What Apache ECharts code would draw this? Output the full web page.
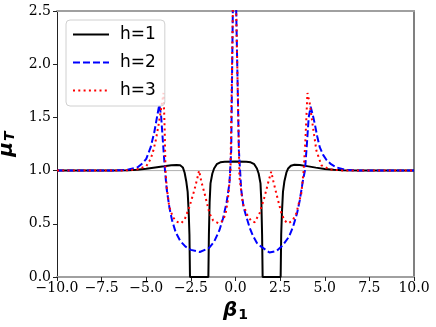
<!DOCTYPE html>
<html>
<head>
    <meta charset="utf-8">
    <title>mu_T vs beta_1</title>
    <script src="https://cdn.jsdelivr.net/npm/echarts@6/dist/echarts.min.js"></script>
    <style>
        html, body { margin: 0; padding: 0; background: #fff; }
    </style>
</head>
<body>
    <div id="main" style="width: 436px;height: 327px;"></div>
    <script type="text/javascript">
    // values, [beta_1, mu_T]
    var h1Points = [[-10, 1], [-7, 1], [-6, 1.003], [-5.5, 1.008], [-5, 1.018], [-4.5, 1.03], [-4, 1.04],
        [-3.6, 1.05], [-3.3, 1.053], [-3.1, 1.05], [-2.95, 1.03], [-2.85, 0.98], [-2.76, 0.9], [-2.68, 0.8],
        [-2.62, 0.6], [-2.58, 0.4], [-2.55, 0], [-1.52, 0], [-1.49, 0.4], [-1.45, 0.7], [-1.4, 0.88],
        [-1.3, 0.97], [-1.2, 1.02], [-1.05, 1.06], [-0.85, 1.078], [-0.6, 1.083], [0, 1.085], [0.6, 1.083],
        [0.85, 1.078], [1.05, 1.06], [1.2, 1.02], [1.3, 0.97], [1.4, 0.88], [1.45, 0.7], [1.49, 0.4],
        [1.52, 0], [2.53, 0], [2.56, 0.4], [2.6, 0.6], [2.66, 0.8], [2.74, 0.9], [2.85, 0.98], [2.95, 1.02],
        [3.1, 1.045], [3.3, 1.055], [3.6, 1.052], [4.0, 1.042], [4.5, 1.028], [5.0, 1.016], [5.5, 1.008],
        [6, 1.003], [7, 1], [10, 1]];
    var h2Points = [[-10, 1], [-7, 1], [-6.5, 1.003], [-6, 1.01], [-5.5, 1.03], [-5.2, 1.07], [-5, 1.11],
        [-4.75, 1.22], [-4.55, 1.36], [-4.4, 1.5], [-4.27, 1.62], [-4.17, 1.52], [-4.07, 1.28], [-3.95, 1.0],
        [-3.85, 0.82], [-3.7, 0.65], [-3.55, 0.53], [-3.35, 0.42], [-3.1, 0.34], [-2.8, 0.285], [-2.5, 0.255],
        [-2.0, 0.235], [-1.5, 0.27], [-1.2, 0.33], [-0.9, 0.44], [-0.7, 0.55], [-0.5, 0.7], [-0.34, 0.88],
        [-0.24, 1.19], [-0.15, 2.5], [-0.05, 4.0], [0.04, 2.5], [0.19, 1.19], [0.32, 0.82], [0.45, 0.66],
        [0.6, 0.57], [0.8, 0.46], [0.97, 0.39], [1.2, 0.32], [1.44, 0.285], [1.9, 0.23], [2.3, 0.245],
        [2.66, 0.3], [3.0, 0.38], [3.22, 0.47], [3.45, 0.6], [3.6, 0.72], [3.78, 0.91], [3.89, 1.0],
        [4.0, 1.25], [4.1, 1.5], [4.21, 1.6], [4.32, 1.53], [4.44, 1.44], [4.58, 1.32], [4.72, 1.22],
        [4.9, 1.15], [5.1, 1.1], [5.35, 1.06], [5.66, 1.03], [6.2, 1.005], [7, 1], [10, 1]];
    var h3Points = [[-10, 1], [-7, 1], [-6, 1.003], [-5.5, 1.012], [-5, 1.04], [-4.75, 1.11], [-4.6, 1.19],
        [-4.46, 1.29], [-4.3, 1.44], [-4.15, 1.6], [-4.03, 1.73], [-3.97, 1.4], [-3.92, 1.0], [-3.85, 0.84],
        [-3.71, 0.66], [-3.5, 0.56], [-3.3, 0.52], [-3.05, 0.505], [-2.85, 0.54], [-2.58, 0.66], [-2.3, 0.82],
        [-2.15, 0.92], [-2.04, 1.0], [-1.92, 0.9], [-1.74, 0.79], [-1.46, 0.6], [-1.25, 0.53], [-0.95, 0.505],
        [-0.7, 0.53], [-0.55, 0.6], [-0.43, 0.72], [-0.28, 1.0], [-0.15, 2.5], [-0.05, 5], [0.04, 2.5],
        [0.22, 0.94], [0.41, 0.69], [0.69, 0.57], [0.9, 0.525], [1.07, 0.515], [1.35, 0.6], [1.63, 0.755],
        [1.85, 0.9], [2.0, 0.99], [2.12, 0.9], [2.28, 0.79], [2.57, 0.6], [2.75, 0.53], [2.94, 0.505],
        [3.2, 0.53], [3.41, 0.6], [3.69, 0.79], [3.82, 1.0], [3.92, 1.3], [4.03, 1.73], [4.16, 1.63],
        [4.34, 1.41], [4.53, 1.19], [4.81, 1.05], [5.3, 1.01], [6, 1.002], [7, 1], [10, 1]];
    var seriesNames = ['h=1', 'h=2', 'h=3'];
    var refLevel = 1;          // grey horizontal line
    var xMin = -10, xMax = 10, xStep = 2.5;
    var yMin = 0, yMax = 2.5, yStep = 0.5;

    var serif = 'DejaVu Serif';
    var sans = 'DejaVu Sans';

    function fmt(v) {
        var s = Math.abs(v).toFixed(1);
        return v < 0 ? '\u2212' + s : s;
    }

    var myChart = echarts.init(document.getElementById('main'), null, { renderer: 'canvas' });

    var option = {
        animation: false,
        backgroundColor: '#fff',
        grid: { left: 57, right: 22, top: 11, bottom: 50, containLabel: false, outerBoundsMode: 'none' },
        legend: {
            data: seriesNames,
            orient: 'vertical',
            left: 66,
            top: 20,
            z: 20,
            padding: [6, 9, 7, 6],
            itemWidth: 36,
            itemHeight: 16,
            itemGap: 11,
            backgroundColor: 'rgba(255,255,255,0.8)',
            borderColor: '#d0d0d0',
            borderWidth: 1,
            borderRadius: 4,
            itemStyle: { opacity: 0 },
            textStyle: { fontFamily: sans, fontSize: 17, color: '#000', padding: [0, 0, 0, 6] }
        },
        xAxis: [{
            type: 'value', min: xMin, max: xMax, interval: xStep,
            name: '{b|\u03B2}{s|1}',
            nameLocation: 'middle', nameGap: 22,
            nameTextStyle: {
                rich: {
                    b: { fontFamily: sans, fontWeight: 'bold', fontStyle: 'italic', fontSize: 20, color: '#000' },
                    s: { fontFamily: sans, fontWeight: 'bold', fontSize: 14, color: '#000', padding: [9, 0, 0, 1] }
                }
            },
            axisLine: { onZero: false, lineStyle: { color: '#a0a0a0', width: 2 } },
            axisTick: { inside: false, length: 4, lineStyle: { color: '#222' } },
            axisLabel: {
                fontFamily: serif, fontSize: 14, color: '#000', margin: 4, formatter: fmt,
                alignMinLabel: 'center', alignMaxLabel: 'center', hideOverlap: false
            },
            splitLine: { show: false }
        }, {
            type: 'value', min: xMin, max: xMax, position: 'top',
            axisLine: { onZero: false, lineStyle: { color: '#a0a0a0', width: 2 } },
            axisTick: { show: false }, axisLabel: { show: false }, splitLine: { show: false }
        }],
        yAxis: [{
            type: 'value', min: yMin, max: yMax, interval: yStep,
            name: '{b|\u03BC}{s|T}',
            nameLocation: 'middle', nameGap: 27,
            nameTextStyle: {
                rich: {
                    b: { fontFamily: sans, fontWeight: 'bold', fontStyle: 'italic', fontSize: 20, color: '#000' },
                    s: { fontFamily: sans, fontWeight: 'bold', fontStyle: 'italic', fontSize: 14, color: '#000', padding: [9, 0, 0, 1] }
                }
            },
            axisLine: { show: true, onZero: false, lineStyle: { color: '#222', width: 1 } },
            axisTick: { show: true, inside: false, length: 4, lineStyle: { color: '#222' } },
            axisLabel: { fontFamily: serif, fontSize: 14, color: '#000', margin: 6, formatter: fmt, hideOverlap: false },
            splitLine: { show: false }
        }, {
            type: 'value', min: yMin, max: yMax, position: 'right',
            axisLine: { show: true, onZero: false, lineStyle: { color: '#808080', width: 2 } },
            axisTick: { show: false }, axisLabel: { show: false }, splitLine: { show: false }
        }],
        series: [{
            name: 'ref',
            type: 'line',
            data: [[xMin, refLevel], [xMax, refLevel]],
            symbol: 'none',
            silent: true,
            z: 1,
            lineStyle: { color: '#b0b0b0', width: 1 }
        }, {
            name: seriesNames[0],
            type: 'line',
            data: h1Points,
            symbol: 'none',
            z: 2,
            itemStyle: { color: '#000' },
            lineStyle: { color: '#000', width: 2 }
        }, {
            name: seriesNames[1],
            type: 'line',
            data: h2Points,
            symbol: 'none',
            z: 3,
            itemStyle: { color: '#0000ff' },
            lineStyle: { color: '#0000ff', width: 2, type: [7, 3] }
        }, {
            name: seriesNames[2],
            type: 'line',
            data: h3Points,
            symbol: 'none',
            z: 4,
            itemStyle: { color: '#ff0000' },
            lineStyle: { color: '#ff0000', width: 2, type: [2, 3.3] }
        }]
    };

    myChart.setOption(option);
    </script>
</body>
</html>
